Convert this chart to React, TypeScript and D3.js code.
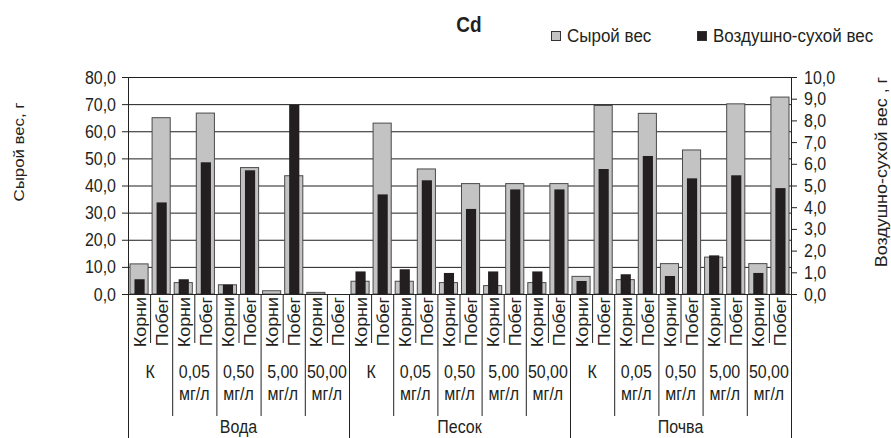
import React, { useEffect, useRef } from 'react';
import * as d3 from 'd3';

const width = 891;
const height = 438;

const groups = ['Вода', 'Песок', 'Почва'];
const concentrations = ['К', '0,05', '0,50', '5,00', '50,00'];
const concUnits = ['', 'мг/л', 'мг/л', 'мг/л', 'мг/л'];
const organs = ['Корни', 'Побег'];

// Сырой вес, г (left axis)
const rawWeight = [
  11.1, 65.0, 4.2, 66.7, 3.4, 46.6, 1.2, 43.6, 0.6, 0,
  4.7, 63.0, 4.7, 46.1, 4.2, 40.7, 3.1, 40.7, 4.2, 40.7,
  6.5, 69.5, 5.3, 66.6, 11.2, 53.1, 13.6, 70.1, 11.2, 72.6,
];
// Воздушно-сухой вес, г (right axis)
const dryWeight = [
  0.68, 4.22, 0.68, 6.07, 0.43, 5.70, 0, 8.72, 0, 0,
  1.04, 4.59, 1.14, 5.24, 0.97, 3.92, 1.04, 4.82, 1.04, 4.82,
  0.60, 5.76, 0.91, 6.36, 0.83, 5.33, 1.78, 5.47, 0.97, 4.88,
];

const leftTicks = [0, 10, 20, 30, 40, 50, 60, 70, 80];
const rightTicks = [0, 1, 2, 3, 4, 5, 6, 7, 8, 9, 10];

const font = 'Arial, "Liberation Sans", sans-serif';
const ink = '#231f20';
const fmt = (v: number) => d3.format('.1f')(v).replace('.', ',');
// the scanned original is a little stretched vertically
const stretch = 1.12;
const at = (x: number, y: number) => `translate(${x},${y}) scale(1,${stretch})`;
const atRot = (x: number, y: number) => `translate(${x},${y}) rotate(-90) scale(${stretch},1)`;

export default function App() {
  const ref = useRef<SVGSVGElement>(null);

  useEffect(() => {
    const svg = d3.select(ref.current);
    svg.selectAll('*').remove();

    const left = 128;
    const right = 791;
    const top = 77;
    const bottom = 294;

    const cats = groups.flatMap((g, gi) =>
      concentrations.flatMap((c, ci) =>
        organs.map((o, oi) => ({ key: gi * 10 + ci * 2 + oi, organ: o })),
      ),
    );

    const x = d3.scaleBand<number>()
      .domain(cats.map((d) => d.key))
      .range([left, right]);
    const bw = x.bandwidth();

    const yL = d3.scaleLinear().domain([0, 80]).range([bottom, top]);
    const yR = d3.scaleLinear().domain([0, 10]).range([bottom, top]);

    // grid
    svg.append('g')
      .selectAll('line')
      .data(leftTicks)
      .enter()
      .append('line')
      .attr('x1', left)
      .attr('x2', right)
      .attr('y1', (d) => yL(d) + 0.5)
      .attr('y2', (d) => yL(d) + 0.5)
      .attr('stroke', '#1e1e1e')
      .attr('stroke-width', 1);

    // grey bars
    const gw = bw * 0.82;
    svg.append('g')
      .selectAll('rect')
      .data(cats)
      .enter()
      .filter((d) => rawWeight[d.key] > 0)
      .append('rect')
      .attr('x', (d) => x(d.key)! + (bw - gw) / 2)
      .attr('y', (d) => yL(rawWeight[d.key]))
      .attr('width', gw)
      .attr('height', (d) => bottom - yL(rawWeight[d.key]))
      .attr('fill', '#c3c3c3')
      .attr('stroke', '#4a4a4a')
      .attr('stroke-width', 1);

    // black bars
    const kw = bw * 0.46;
    svg.append('g')
      .selectAll('rect')
      .data(cats)
      .enter()
      .filter((d) => dryWeight[d.key] > 0)
      .append('rect')
      .attr('x', (d) => x(d.key)! + (bw - kw) / 2 + 0.5)
      .attr('y', (d) => yR(dryWeight[d.key]))
      .attr('width', kw)
      .attr('height', (d) => bottom - yR(dryWeight[d.key]))
      .attr('fill', ink);

    // axes lines
    svg.append('line').attr('x1', left + 0.5).attr('x2', left + 0.5)
      .attr('y1', top).attr('y2', height).attr('stroke', '#222');
    svg.append('line').attr('x1', right + 0.5).attr('x2', right + 0.5)
      .attr('y1', top).attr('y2', height).attr('stroke', '#222');
    svg.append('line').attr('x1', left).attr('x2', right)
      .attr('y1', bottom + 0.5).attr('y2', bottom + 0.5).attr('stroke', '#222');

    // left ticks
    const lt = svg.append('g');
    lt.selectAll('line').data(leftTicks).enter().append('line')
      .attr('x1', left - 6).attr('x2', left)
      .attr('y1', (d) => yL(d) + 0.5).attr('y2', (d) => yL(d) + 0.5)
      .attr('stroke', '#222');
    lt.selectAll('text').data(leftTicks).enter().append('text')
      .attr('transform', (d) => at(116, yL(d) + 6.5))
      .attr('text-anchor', 'end')
      .style('font', `16px ${font}`).attr('fill', ink)
      .text((d) => fmt(d));

    // right ticks
    const rt = svg.append('g');
    rt.selectAll('line').data(rightTicks).enter().append('line')
      .attr('x1', right).attr('x2', right + 6)
      .attr('y1', (d) => yR(d) + 0.5).attr('y2', (d) => yR(d) + 0.5)
      .attr('stroke', '#222');
    rt.selectAll('text').data(rightTicks).enter().append('text')
      .attr('transform', (d) => at(804, yR(d) + 6.5))
      .style('font', `16px ${font}`).attr('fill', ink)
      .text((d) => fmt(d));

    // axis titles
    svg.append('text')
      .attr('transform', atRot(24, 152))
      .attr('text-anchor', 'middle')
      .style('font', `15px ${font}`).attr('fill', ink)
      .text('Сырой вес, г');
    svg.append('text')
      .attr('transform', atRot(887, 172))
      .attr('text-anchor', 'middle')
      .style('font', `16px ${font}`).attr('fill', ink)
      .text('Воздушно-сухой вес , г');

    // category labels
    svg.append('g')
      .selectAll('text')
      .data(cats)
      .enter()
      .append('text')
      .attr('transform', (d) => atRot(x(d.key)! + bw / 2 + 6.5, 297))
      .attr('text-anchor', 'end')
      .style('font', `16px ${font}`).attr('fill', ink)
      .text((d) => d.organ);

    // separators
    const seps = d3.range(1, cats.length);
    svg.append('g')
      .selectAll('line')
      .data(seps)
      .enter()
      .append('line')
      .attr('x1', (d) => x(d)! + 0.5)
      .attr('x2', (d) => x(d)! + 0.5)
      .attr('y1', bottom)
      .attr('y2', (d) => (d % 10 === 0 ? height : d % 2 === 0 ? 416 : 343))
      .attr('stroke', '#222');

    // concentration labels
    const concs = groups.flatMap((g, gi) => concentrations.map((c, ci) => ({ gi, ci })));
    const cg = svg.append('g');
    cg.selectAll('text.c').data(concs).enter().append('text')
      .attr('transform', (d) => at(x(d.gi * 10 + d.ci * 2)! + bw, 378))
      .attr('text-anchor', 'middle')
      .style('font', `16px ${font}`).attr('fill', ink)
      .text((d) => concentrations[d.ci]);
    cg.selectAll('text.u').data(concs).enter().append('text')
      .attr('transform', (d) => at(x(d.gi * 10 + d.ci * 2)! + bw, 400))
      .attr('text-anchor', 'middle')
      .style('font', `16px ${font}`).attr('fill', ink)
      .text((d) => concUnits[d.ci]);

    // group labels
    svg.append('g')
      .selectAll('text')
      .data(groups)
      .enter()
      .append('text')
      .attr('transform', (d, i) => at(x(i * 10)! + bw * 5, 433))
      .attr('text-anchor', 'middle')
      .style('font', `16px ${font}`).attr('fill', ink)
      .text((d) => d);

    // title
    svg.append('text')
      .attr('transform', at(469, 32))
      .attr('text-anchor', 'middle')
      .style('font', `bold 19px ${font}`).attr('fill', ink)
      .text('Cd');

    // legend
    const legend = [
      { label: 'Сырой вес', fill: '#c3c3c3', x: 551 },
      { label: 'Воздушно-сухой вес', fill: ink, x: 697 },
    ];
    const lg = svg.append('g');
    lg.selectAll('rect').data(legend).enter().append('rect')
      .attr('x', (d) => d.x + 0.5).attr('y', 31.5)
      .attr('width', 9).attr('height', 9)
      .attr('fill', (d) => d.fill).attr('stroke', '#333');
    lg.selectAll('text').data(legend).enter().append('text')
      .attr('transform', (d) => at(d.x + 16, 42))
      .style('font', `17px ${font}`).attr('fill', ink)
      .text((d) => d.label);
  }, []);

  return (
    <svg
      ref={ref}
      width={width}
      height={height}
      style={{ position: 'absolute', left: 0, top: 0, background: '#fff' }}
    />
  );
}
